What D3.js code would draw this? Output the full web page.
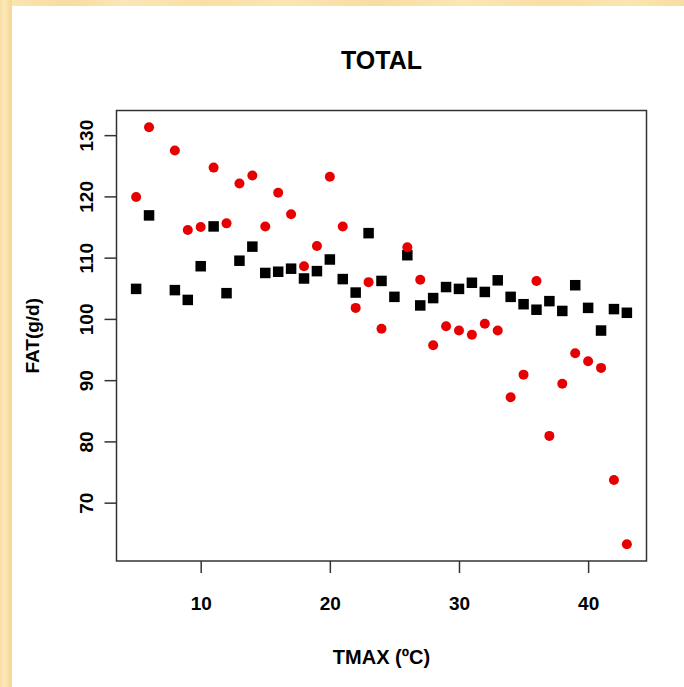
<!DOCTYPE html>
<html>
<head>
<meta charset="utf-8">
<script src="https://cdn.jsdelivr.net/npm/d3@7/dist/d3.min.js"></script>
<style>
  html, body { margin: 0; padding: 0; }
  body { width: 684px; height: 687px; overflow: hidden; background-color:#fae2aa; }
  svg { display: block; }
</style>
</head>
<body>
<svg id="chart" width="684" height="687"></svg>
<script>
// Data
const tmaxBlack = [5,6,8,9,10,11,12,13,14,15,16,17,18,19,20,21,22,23,24,25,26,27,28,29,30,31,32,33,34,35,36,37,38,39,40,41,42,43];
const fatBlack  = [104.9,116.9,104.7,103.1,108.6,115.1,104.2,109.5,111.8,107.5,107.7,108.2,106.6,107.8,109.7,106.5,104.3,114.0,106.2,103.6,110.4,102.2,103.4,105.2,104.9,105.9,104.4,106.3,103.6,102.4,101.5,102.9,101.3,105.5,101.8,98.1,101.6,101.0];
const tmaxRed = [5,6,8,9,10,11,12,13,14,15,16,17,18,19,20,21,22,23,24,26,27,28,29,30,31,32,33,34,35,36,37,38,39,40,41,42,43];
const fatRed  = [119.9,131.3,127.5,114.5,115.0,124.7,115.6,122.1,123.4,115.1,120.6,117.1,108.6,111.9,123.2,115.1,101.8,106.0,98.4,111.7,106.4,95.7,98.8,98.1,97.4,99.2,98.1,87.2,90.9,106.2,80.9,89.4,94.4,93.1,92.0,73.7,63.2];
const xTicks = [10,20,30,40];
const yTicks = [70,80,90,100,110,120,130];
const titleText = "TOTAL";
const xLabel = "TMAX (ºC)";
const yLabel = "FAT(g/d)";

const svg = d3.select("#chart");
const box = {left: 116.5, right: 646.5, top: 110.5, bottom: 561};

// background texture
const defs = svg.append("defs");
const g1 = defs.append("linearGradient").attr("id","bgTop").attr("x1","0").attr("x2","1").attr("y1","0").attr("y2","0");
[["0%","#fbe6b4"],["10%","#f8dca0"],["18%","#fbe6b6"],["30%","#f9dfa6"],["42%","#fbe5b2"],["55%","#f8dca2"],["68%","#fbe6b5"],["80%","#f9dea5"],["92%","#fbe5b0"],["100%","#f8dda2"]]
  .forEach(s => g1.append("stop").attr("offset", s[0]).attr("stop-color", s[1]));
const g2 = defs.append("linearGradient").attr("id","bgLeft").attr("x1","0").attr("x2","1").attr("y1","0").attr("y2","0");
[["0%","#f9dfa6"],["40%","#fce8b8"],["75%","#f8dc9f"],["100%","#f5d896"]]
  .forEach(s => g2.append("stop").attr("offset", s[0]).attr("stop-color", s[1]));
svg.append("rect").attr("x",0).attr("y",0).attr("width",684).attr("height",687).attr("fill","url(#bgTop)");
svg.append("rect").attr("x",0).attr("y",0).attr("width",12).attr("height",687).attr("fill","url(#bgLeft)");
svg.append("rect").attr("x",12).attr("y",6).attr("width",672).attr("height",681).attr("fill","#ffffff");

function rExt(vals){ const e = d3.extent(vals); const d=(e[1]-e[0])*0.04; return [e[0]-d, e[1]+d]; }
const x = d3.scaleLinear().domain(rExt(tmaxBlack.concat(tmaxRed))).range([box.left, box.right]);
const y = d3.scaleLinear().domain(rExt(fatBlack.concat(fatRed))).range([box.bottom, box.top]);

const axisColor = "#333333";
const font = "Liberation Sans, Arial, sans-serif";
// x axis
const xa = svg.append("g").attr("transform", `translate(0,${box.bottom})`)
  .call(d3.axisBottom(x).tickValues(xTicks).tickSize(12).tickPadding(24).tickFormat(d3.format("d")));
xa.select(".domain").remove();
xa.selectAll(".tick line").attr("stroke", axisColor).attr("stroke-width", 1.5);
xa.selectAll(".tick text").attr("font-family",font).attr("font-weight","bold").attr("font-size","19px").attr("fill","#000");

// y axis
const ya = svg.append("g").attr("transform", `translate(${box.left},0)`)
  .call(d3.axisLeft(y).tickValues(yTicks).tickSize(12).tickFormat(d3.format("d")));
ya.select(".domain").remove();
ya.selectAll(".tick line").attr("stroke", axisColor).attr("stroke-width", 1.5);
ya.selectAll(".tick text").attr("font-family",font).attr("font-weight","bold").attr("font-size","19px").attr("fill","#000")
  .attr("x", null).attr("dy", null).attr("text-anchor","middle")
  .attr("transform","translate(-24,0) rotate(-90)");

// box
svg.append("rect").attr("x", box.left).attr("y", box.top).attr("width", box.right-box.left).attr("height", box.bottom-box.top)
  .attr("fill","none").attr("stroke", axisColor).attr("stroke-width", 1.5);

// points
const sq = 10.5;
svg.append("g").selectAll("rect").data(tmaxBlack.map((t,i)=>[t,fatBlack[i]])).join("rect")
  .attr("x", d => x(d[0]) - sq/2).attr("y", d => y(d[1]) - sq/2).attr("width", sq).attr("height", sq).attr("fill","#000");
svg.append("g").selectAll("circle").data(tmaxRed.map((t,i)=>[t,fatRed[i]])).join("circle")
  .attr("cx", d => x(d[0])).attr("cy", d => y(d[1])).attr("r", 5).attr("fill","#e60000");

// titles
const cx = (box.left+box.right)/2;
svg.append("text").attr("x", cx).attr("y", 69).attr("text-anchor","middle")
  .attr("font-family",font).attr("font-weight","bold").attr("font-size","25px").text(titleText);
svg.append("text").attr("x", cx).attr("y", 664).attr("text-anchor","middle")
  .attr("font-family",font).attr("font-weight","bold").attr("font-size","20px").text(xLabel);
svg.append("text").attr("transform", `translate(39,${(box.top+box.bottom)/2}) rotate(-90)`).attr("text-anchor","middle")
  .attr("font-family",font).attr("font-weight","bold").attr("font-size","19px").text(yLabel);
</script>
</body>
</html>
